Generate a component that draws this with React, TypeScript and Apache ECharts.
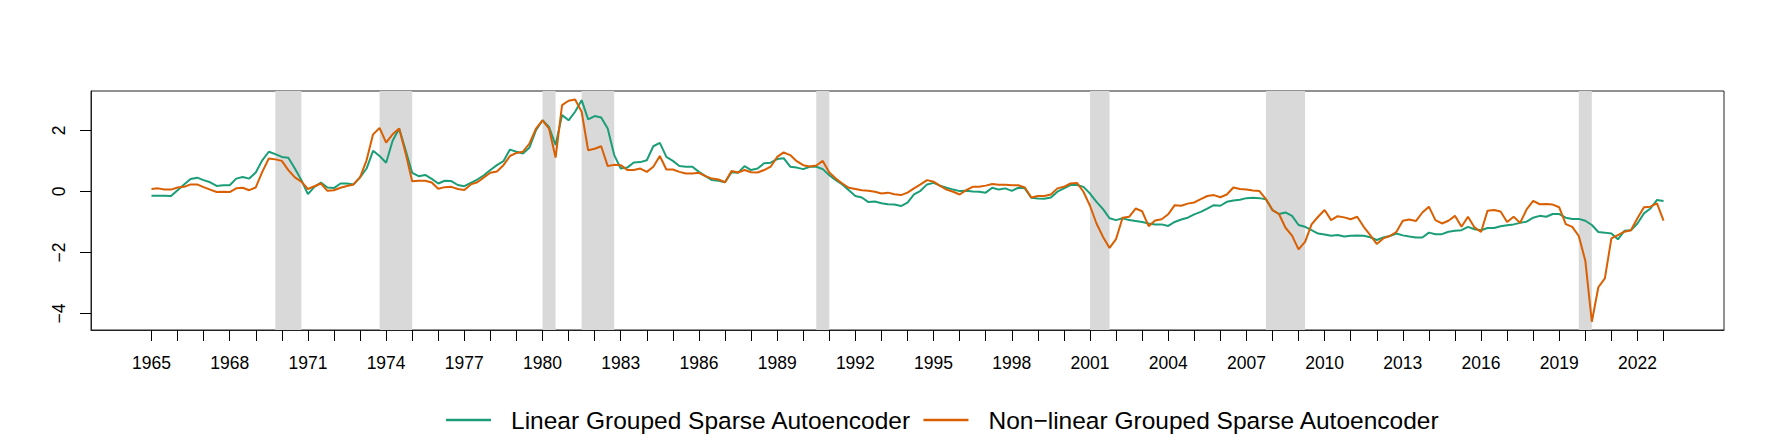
import React, { useEffect, useRef } from 'react';
import * as echarts from 'echarts';

// Quarterly series, 1965Q1 .. 2023Q1
const START_YEAR = 1965;

const linearGSAE = [
  -0.14, -0.14, -0.14, -0.15, 0.04, 0.23, 0.41, 0.45, 0.37, 0.30,
  0.18, 0.20, 0.20, 0.42, 0.47, 0.42, 0.62, 1.02, 1.30, 1.22,
  1.13, 1.10, 0.75, 0.37, -0.09, 0.15, 0.29, 0.13, 0.11, 0.26,
  0.26, 0.23, 0.46, 0.75, 1.33, 1.16, 0.94, 1.66, 2.06, 1.35,
  0.61, 0.50, 0.54, 0.41, 0.26, 0.35,
  0.34, 0.21, 0.17, 0.28, 0.39, 0.53, 0.70, 0.86, 0.99, 1.37,
  1.30, 1.24, 1.44, 2.01, 2.33, 2.11, 1.52, 2.50, 2.33, 2.61,
  2.99, 2.36, 2.47, 2.42, 2.06, 1.19, 0.75, 0.78, 0.95, 0.96,
  1.02, 1.48, 1.59, 1.13, 1.00, 0.83, 0.81, 0.81, 0.64, 0.50,
  0.37, 0.35, 0.30, 0.63, 0.61, 0.83, 0.70,
  0.75, 0.92, 0.94, 1.06, 1.09, 0.81, 0.78, 0.73, 0.81, 0.81,
  0.73, 0.53, 0.37, 0.23, 0.04, -0.15, -0.20, -0.35, -0.33, -0.39,
  -0.42, -0.43, -0.48, -0.37, -0.10, 0.02, 0.23, 0.28, 0.19, 0.12,
  0.06, 0.01, 0.02, 0.00, -0.01, -0.04, 0.12, 0.06, 0.10, 0.02,
  0.12, 0.10, -0.21, -0.23, -0.24, -0.20, -0.01,
  0.10, 0.21, 0.21, 0.15, -0.07, -0.34, -0.58, -0.88, -0.94, -0.88,
  -0.94, -0.97, -1.00, -1.05, -1.08, -1.08, -1.13, -1.00, -0.92, -0.86,
  -0.75, -0.67, -0.56, -0.45, -0.47, -0.34, -0.30, -0.27, -0.22, -0.21,
  -0.22, -0.26, -0.61, -0.74, -0.69, -0.80, -1.10, -1.16, -1.27, -1.38,
  -1.41, -1.45, -1.43, -1.48, -1.45, -1.44, -1.45,
  -1.50, -1.59, -1.51, -1.46, -1.38, -1.44, -1.48, -1.51, -1.51, -1.35,
  -1.40, -1.40, -1.32, -1.29, -1.27, -1.16, -1.24, -1.27, -1.20, -1.20,
  -1.14, -1.11, -1.08, -1.03, -0.99, -0.86, -0.80, -0.83, -0.74, -0.74,
  -0.86, -0.90, -0.90, -0.96, -1.10, -1.33, -1.35, -1.38, -1.57, -1.29,
  -1.27, -1.05, -0.72, -0.56, -0.28, -0.31,
];

const nonlinearGSAE = [
  0.08, 0.10, 0.06, 0.06, 0.13, 0.15, 0.23, 0.23, 0.14, 0.06,
  -0.02, -0.01, -0.02, 0.10, 0.12, 0.04, 0.13, 0.64, 1.08, 1.05,
  1.00, 0.70, 0.46, 0.32, 0.08, 0.17, 0.26, 0.02, 0.04, 0.12,
  0.18, 0.23, 0.46, 1.02, 1.87, 2.08, 1.60, 1.87, 2.06, 1.24,
  0.33, 0.35, 0.35, 0.29, 0.09, 0.14,
  0.15, 0.08, 0.05, 0.23, 0.30, 0.46, 0.61, 0.65, 0.86, 1.16,
  1.26, 1.30, 1.57, 2.06, 2.33, 2.06, 1.11, 2.83, 2.97, 3.01,
  2.61, 1.35, 1.40, 1.48, 0.83, 0.87, 0.86, 0.70, 0.70, 0.75,
  0.64, 0.81, 1.16, 0.72, 0.72, 0.64, 0.59, 0.59, 0.61, 0.50,
  0.42, 0.39, 0.30, 0.67, 0.62, 0.70, 0.63,
  0.62, 0.70, 0.81, 1.13, 1.28, 1.19, 0.99, 0.86, 0.82, 0.85,
  1.00, 0.62, 0.42, 0.26, 0.12, 0.08, 0.04, 0.02, -0.01, -0.07,
  -0.04, -0.09, -0.12, -0.04, 0.10, 0.23, 0.37, 0.32, 0.18, 0.06,
  -0.01, -0.10, 0.04, 0.15, 0.15, 0.19, 0.24, 0.22, 0.22, 0.20,
  0.20, 0.13, -0.20, -0.15, -0.15, -0.10, 0.10,
  0.15, 0.26, 0.28, -0.01, -0.47, -1.05, -1.49, -1.85, -1.56, -0.86,
  -0.83, -0.56, -0.65, -1.14, -0.95, -0.91, -0.75, -0.45, -0.47, -0.40,
  -0.36, -0.25, -0.15, -0.12, -0.19, -0.10, 0.13, 0.08, 0.06, 0.03,
  0.01, -0.25, -0.61, -0.74, -1.19, -1.45, -1.90, -1.65, -1.08, -0.83,
  -0.61, -0.94, -0.81, -0.85, -0.91, -0.83, -1.16,
  -1.43, -1.72, -1.54, -1.46, -1.33, -0.96, -0.92, -0.97, -0.69, -0.50,
  -0.94, -1.05, -0.96, -0.80, -1.16, -0.83, -1.18, -1.33, -0.63, -0.61,
  -0.66, -1.00, -0.83, -1.03, -0.59, -0.31, -0.42, -0.41, -0.43, -0.52,
  -1.07, -1.16, -1.46, -2.27, -4.27, -3.14, -2.85, -1.54, -1.43, -1.32,
  -1.27, -0.88, -0.52, -0.50, -0.39, -0.96,
];

const recessionStart = [1969.75, 1973.75, 1980.0, 1981.5, 1990.5, 2001.0, 2007.75, 2019.75];
const recessionEnd = [1970.75, 1975.0, 1980.5, 1982.75, 1991.0, 2001.75, 2009.25, 2020.25];

const tickYears = [
  1965, 1966, 1967, 1968, 1969, 1970, 1971, 1972, 1973, 1974, 1975, 1976, 1977, 1978, 1979,
  1980, 1981, 1982, 1983, 1984, 1985, 1986, 1987, 1988, 1989, 1990, 1991, 1992, 1993, 1994,
  1995, 1996, 1997, 1998, 1999, 2000, 2001, 2002, 2003, 2004, 2005, 2006, 2007, 2008, 2009,
  2010, 2011, 2012, 2013, 2014, 2015, 2016, 2017, 2018, 2019, 2020, 2021, 2022, 2023,
];
const labelYears = [
  1965, 1968, 1971, 1974, 1977, 1980, 1983, 1986, 1989, 1992, 1995, 1998, 2001, 2004, 2007,
  2010, 2013, 2016, 2019, 2022,
];
const yTicks = [-4, -2, 0, 2];

const seriesNames = ['Linear Grouped Sparse Autoencoder', 'Non\u2212linear Grouped Sparse Autoencoder'];
const seriesColors = ['#1B9E77', '#D95F02'];

const X_MIN = 1962.68;
const X_MAX = 2025.32;
const Y_MIN = -4.54;
const Y_MAX = 3.29;

const FONT = "'Liberation Sans', Arial, Helvetica, sans-serif";

const toPairs = (vals: number[]) => vals.map((v, i) => [START_YEAR + i / 4, v]);

export default function App() {
  const ref = useRef<HTMLDivElement>(null);

  useEffect(() => {
    if (!ref.current) return;
    const chart = echarts.init(ref.current, undefined, { renderer: 'svg' });
    const fmtNum = (v: number) => (v < 0 ? '\u2212' + Math.abs(v) : String(v));
    chart.setOption({
      animation: false,
      backgroundColor: '#ffffff',
      grid: {
        left: 91,
        right: 47,
        top: 91,
        bottom: 113,
        show: true,
        borderColor: '#222',
        borderWidth: 1,
        backgroundColor: 'transparent',
        containLabel: false,
      },
      legend: {
        data: seriesNames,
        left: 441,
        top: 401,
        orient: 'horizontal',
        icon: 'rect',
        itemWidth: 45,
        itemHeight: 2.5,
        itemGap: 12,
        selectedMode: false,
        textStyle: {
          fontFamily: FONT,
          fontSize: 24.5,
          color: '#000',
          lineHeight: 28,
          padding: [0, 0, 0, 15],
        },
      },
      xAxis: {
        type: 'value',
        min: X_MIN,
        max: X_MAX,
        splitLine: { show: false },
        axisLine: { show: true, onZero: false, lineStyle: { color: '#222', width: 1 } },
        axisTick: {
          show: true,
          length: 11,
          customValues: tickYears,
          lineStyle: { color: '#000', width: 1 },
        },
        axisLabel: {
          customValues: labelYears,
          fontFamily: FONT,
          fontSize: 17.5,
          color: '#000',
          margin: 24,
          formatter: (v: number) => String(v),
        },
      },
      yAxis: {
        type: 'value',
        min: Y_MIN,
        max: Y_MAX,
        splitLine: { show: false },
        axisLine: { show: true, onZero: false, lineStyle: { color: '#222', width: 1 } },
        axisTick: {
          show: true,
          length: 11,
          customValues: yTicks,
          lineStyle: { color: '#000', width: 1 },
        },
        axisLabel: {
          customValues: yTicks,
          fontFamily: FONT,
          fontSize: 17.5,
          color: '#000',
          rotate: 90,
          margin: 23,
          formatter: (v: number) => fmtNum(v),
        },
      },
      series: [
        {
          type: 'custom',
          name: 'recessions',
          z: 1,
          silent: true,
          data: recessionStart.map((s, i) => [s, recessionEnd[i]]),
          encode: { x: [0, 1] },
          renderItem: (params: any, api: any) => {
            const cs = params.coordSys;
            const x0 = api.coord([api.value(0), 0])[0];
            const x1 = api.coord([api.value(1), 0])[0];
            return {
              type: 'rect',
              shape: { x: x0, y: cs.y, width: x1 - x0, height: cs.height },
              style: { fill: '#D9D9D9' },
            };
          },
        },
        {
          type: 'line',
          name: seriesNames[0],
          data: toPairs(linearGSAE),
          showSymbol: false,
          symbol: 'none',
          z: 3,
          color: seriesColors[0],
          lineStyle: { color: seriesColors[0], width: 2 },
        },
        {
          type: 'line',
          name: seriesNames[1],
          data: toPairs(nonlinearGSAE),
          showSymbol: false,
          symbol: 'none',
          z: 4,
          color: seriesColors[1],
          lineStyle: { color: seriesColors[1], width: 2 },
        },
      ],
    });
    return () => chart.dispose();
  }, []);

  return (
    <div
      ref={ref}
      style={{ position: 'fixed', left: 0, top: 0, width: 1771, height: 443, background: '#fff' }}
    />
  );
}
